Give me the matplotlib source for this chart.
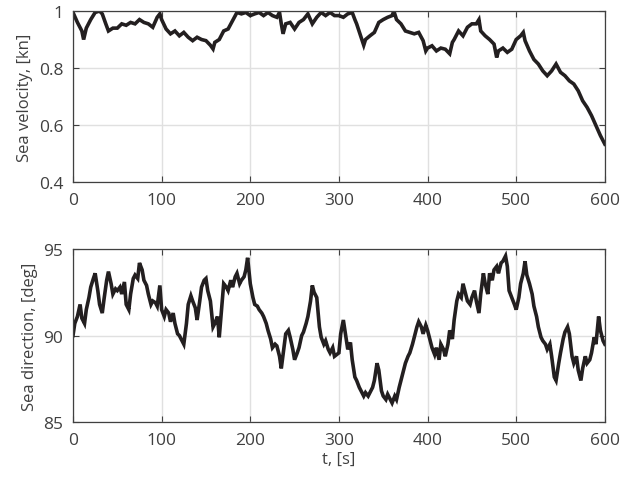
import numpy as np
import matplotlib
matplotlib.use("Agg")
import matplotlib.pyplot as plt

plt.rcParams['font.family'] = ['Open Sans', 'DejaVu Sans']

# sea velocity
t_vel = [0, 5, 10, 12, 15, 20, 25, 30, 33, 37, 40, 45, 50, 55, 60, 65, 70, 75, 80, 85,
         90, 95, 98, 100, 105, 110, 115, 120, 125, 130, 135, 140, 145, 150, 155, 158, 160,
         165, 170, 175, 180, 185, 190, 195, 200, 205, 210, 215, 220, 225, 230, 233, 235,
         237, 240, 245, 250, 255, 260, 265, 270, 275, 280, 285, 290, 295, 300, 305, 310,
         315, 318, 320, 325, 328, 330, 335, 340, 345, 350, 355, 360, 362, 365, 370, 375,
         380, 385, 390, 395, 398, 400, 405, 410, 415, 420, 425, 428, 430, 435, 440, 445,
         450, 455, 458, 460, 465, 470, 475, 478, 480, 485, 490, 495, 500, 505, 508, 510,
         515, 520, 525, 530, 535, 540, 545, 550, 555, 560, 565, 570, 575, 580, 585, 590,
         595, 600]
vel = [0.995, 0.96, 0.93, 0.90, 0.94, 0.97, 0.995, 1.0, 0.99, 0.955, 0.93, 0.94, 0.94,
       0.955, 0.95, 0.96, 0.955, 0.97, 0.96, 0.955, 0.943, 0.978, 0.99, 0.97, 0.937, 0.92,
       0.93, 0.913, 0.925, 0.908, 0.896, 0.908, 0.90, 0.896, 0.88, 0.867, 0.89, 0.90, 0.93,
       0.937, 0.966, 0.995, 0.99, 0.995, 0.984, 0.99, 0.995, 0.984, 0.995, 0.984, 0.978,
       0.995, 0.955, 0.92, 0.955, 0.96, 0.937, 0.96, 0.97, 0.99, 0.955, 0.978, 0.995,
       0.984, 0.995, 0.984, 0.984, 0.978, 0.99, 0.995, 0.97, 0.955, 0.908, 0.88, 0.90,
       0.913, 0.925, 0.96, 0.97, 0.978, 0.984, 1.0, 0.97, 0.955, 0.93, 0.925, 0.92, 0.925,
       0.896, 0.86, 0.87, 0.878, 0.86, 0.87, 0.866, 0.85, 0.89, 0.90, 0.93, 0.913, 0.943,
       0.955, 0.955, 0.97, 0.93, 0.913, 0.90, 0.884, 0.837, 0.86, 0.87, 0.855, 0.866, 0.90,
       0.913, 0.925, 0.896, 0.86, 0.83, 0.814, 0.79, 0.773, 0.79, 0.814, 0.785, 0.773,
       0.755, 0.744, 0.72, 0.685, 0.662, 0.633, 0.598, 0.563, 0.533]

# sea direction
t_dir = [0, 2, 5, 8, 10, 13, 15, 18, 20, 23, 25, 28, 30, 33, 35, 38, 40, 43, 45, 48, 50,
         53, 55, 58, 60, 63, 65, 68, 70, 73, 75, 78, 80, 83, 85, 88, 90, 93, 95, 98, 100,
         103, 105, 108, 110, 113, 115, 118, 120, 123, 125, 128, 130, 133, 135, 138, 140,
         143, 145, 148, 150, 152, 155, 158, 160, 163, 165, 168, 170, 173, 175, 178, 180,
         183, 185, 188, 190, 193, 195, 197, 200, 203, 205, 208, 210, 213, 215, 218, 220,
         223, 225, 228, 230, 233, 235, 238, 240, 243, 245, 248, 250, 253, 255, 258, 260,
         263, 265, 268, 270, 272, 275, 278, 280, 283, 285, 288, 290, 293, 295, 300, 302,
         305, 308, 310, 313, 315, 318, 320, 323, 325, 328, 330, 333, 335, 338, 340, 343,
         345, 348, 350, 353, 355, 358, 360, 363, 365, 368, 370, 373, 375, 378, 380, 383,
         385, 388, 390, 393, 395, 398, 400, 403, 405, 408, 410, 413, 415, 418, 420, 423,
         425, 428, 430, 433, 435, 438, 440, 443, 445, 448, 450, 453, 455, 458, 460, 463,
         465, 468, 470, 473, 475, 478, 480, 483, 485, 488, 490, 492, 495, 498, 500, 503,
         505, 508, 510, 512, 515, 518, 520, 523, 525, 528, 530, 533, 535, 538, 540, 543,
         545, 548, 550, 553, 555, 558, 560, 563, 565, 568, 570, 573, 575, 578, 580, 583,
         585, 588, 590, 593, 595, 598, 600]
direction = [90.0, 90.7, 91.1, 91.8, 91.0, 90.7, 91.5, 92.2, 92.8, 93.3, 93.6, 92.6, 91.8,
             91.3, 92.1, 93.2, 93.7, 93.0, 92.4, 92.7, 92.6, 92.8, 92.4, 93.1, 91.8, 91.5,
             92.4, 93.3, 93.5, 93.3, 94.2, 93.8, 93.2, 92.9, 92.4, 91.8, 92.0, 91.9, 91.7,
             92.9, 91.5, 91.1, 91.5, 91.3, 90.8, 91.3, 90.7, 90.1, 90.0, 89.7, 89.5, 90.7,
             91.8, 92.3, 92.0, 91.6, 90.9, 92.0, 92.8, 93.2, 93.3, 92.6, 92.0, 90.5, 90.7,
             91.1, 89.9, 91.8, 93.0, 92.8, 92.6, 93.2, 92.8, 93.4, 93.6, 93.0, 93.2, 93.4,
             93.8, 94.5, 93.0, 92.2, 91.8, 91.7, 91.5, 91.3, 91.1, 90.7, 90.3, 89.8, 89.3,
             89.5, 89.4, 88.8, 88.1, 89.3, 90.1, 90.3, 89.9, 89.2, 88.6, 89.0, 89.3, 90.0,
             90.2, 90.7, 91.1, 92.0, 92.9, 92.5, 92.2, 90.5, 89.9, 89.5, 89.7, 89.2, 89.0,
             89.3, 88.8, 89.0, 90.1, 90.9, 89.9, 89.2, 89.6, 88.6, 87.6, 87.4, 87.0, 86.8,
             86.5, 86.7, 86.5, 86.7, 87.0, 87.4, 88.4, 88.0, 86.8, 86.5, 86.3, 86.6, 86.3,
             86.1, 86.5, 86.3, 87.0, 87.4, 88.0, 88.4, 88.8, 89.0, 89.5, 89.9, 90.5, 90.8,
             90.5, 90.1, 90.6, 90.3, 89.7, 89.3, 88.9, 89.3, 88.6, 89.5, 89.2, 88.8, 89.5,
             90.3, 89.8, 90.9, 92.0, 92.4, 92.2, 93.0, 92.4, 92.0, 91.8, 92.2, 92.6, 92.0,
             91.3, 92.4, 93.6, 93.0, 92.4, 93.6, 93.2, 93.8, 94.0, 93.6, 94.2, 94.3, 94.6,
             94.0, 92.6, 92.2, 91.8, 91.5, 92.2, 93.0, 93.6, 94.3, 93.5, 93.0, 92.4, 91.7,
             91.1, 90.5, 89.9, 89.7, 89.5, 89.2, 89.5, 88.8, 87.6, 87.4, 88.4, 89.0, 89.8,
             90.2, 90.5, 90.1, 88.8, 88.4, 88.8, 88.0, 87.4, 88.1, 88.8, 88.4, 88.6, 89.0,
             89.9, 89.5, 91.1, 90.3, 89.7, 89.5]

line_col = '#231f20'
axis_col = '#404040'

fig = plt.figure(figsize=(6.32, 4.81), dpi=100)
ax1 = fig.add_axes([0.1155, 0.6195, 0.8415, 0.3555])
ax2 = fig.add_axes([0.1155, 0.1206, 0.8415, 0.3594])

ax1.plot(t_vel, vel, color=line_col, lw=2.6, solid_joinstyle='miter')
ax2.plot(t_dir, direction, color=line_col, lw=2.6, solid_joinstyle='miter')

ax1.set_ylim(0.4, 1)
ax1.set_yticks([0.4, 0.6, 0.8, 1])
ax1.set_yticklabels(['0.4', '0.6', '0.8', '1'])
ax1.set_ylabel('Sea velocity, [kn]', color=axis_col, fontsize=12, labelpad=4)

ax2.set_ylim(85, 95)
ax2.set_yticks([85, 90, 95])
ax2.set_ylabel('Sea direction, [deg]', color=axis_col, fontsize=12, labelpad=4)
ax2.set_xlabel('t, [s]', color=axis_col, fontsize=12, labelpad=2)

for ax in (ax1, ax2):
    ax.set_xlim(0, 600)
    ax.set_xticks([0, 100, 200, 300, 400, 500, 600])
    ax.grid(True, color='#e0e0e0', lw=1.0)
    ax.set_axisbelow(True)
    ax.tick_params(direction='in', top=True, right=True, length=4, width=0.8,
                   colors=axis_col, labelsize=12.5, pad=7)
    for sp in ax.spines.values():
        sp.set_color(axis_col)
        sp.set_linewidth(0.9)

fig.savefig('out.png', dpi=100)
